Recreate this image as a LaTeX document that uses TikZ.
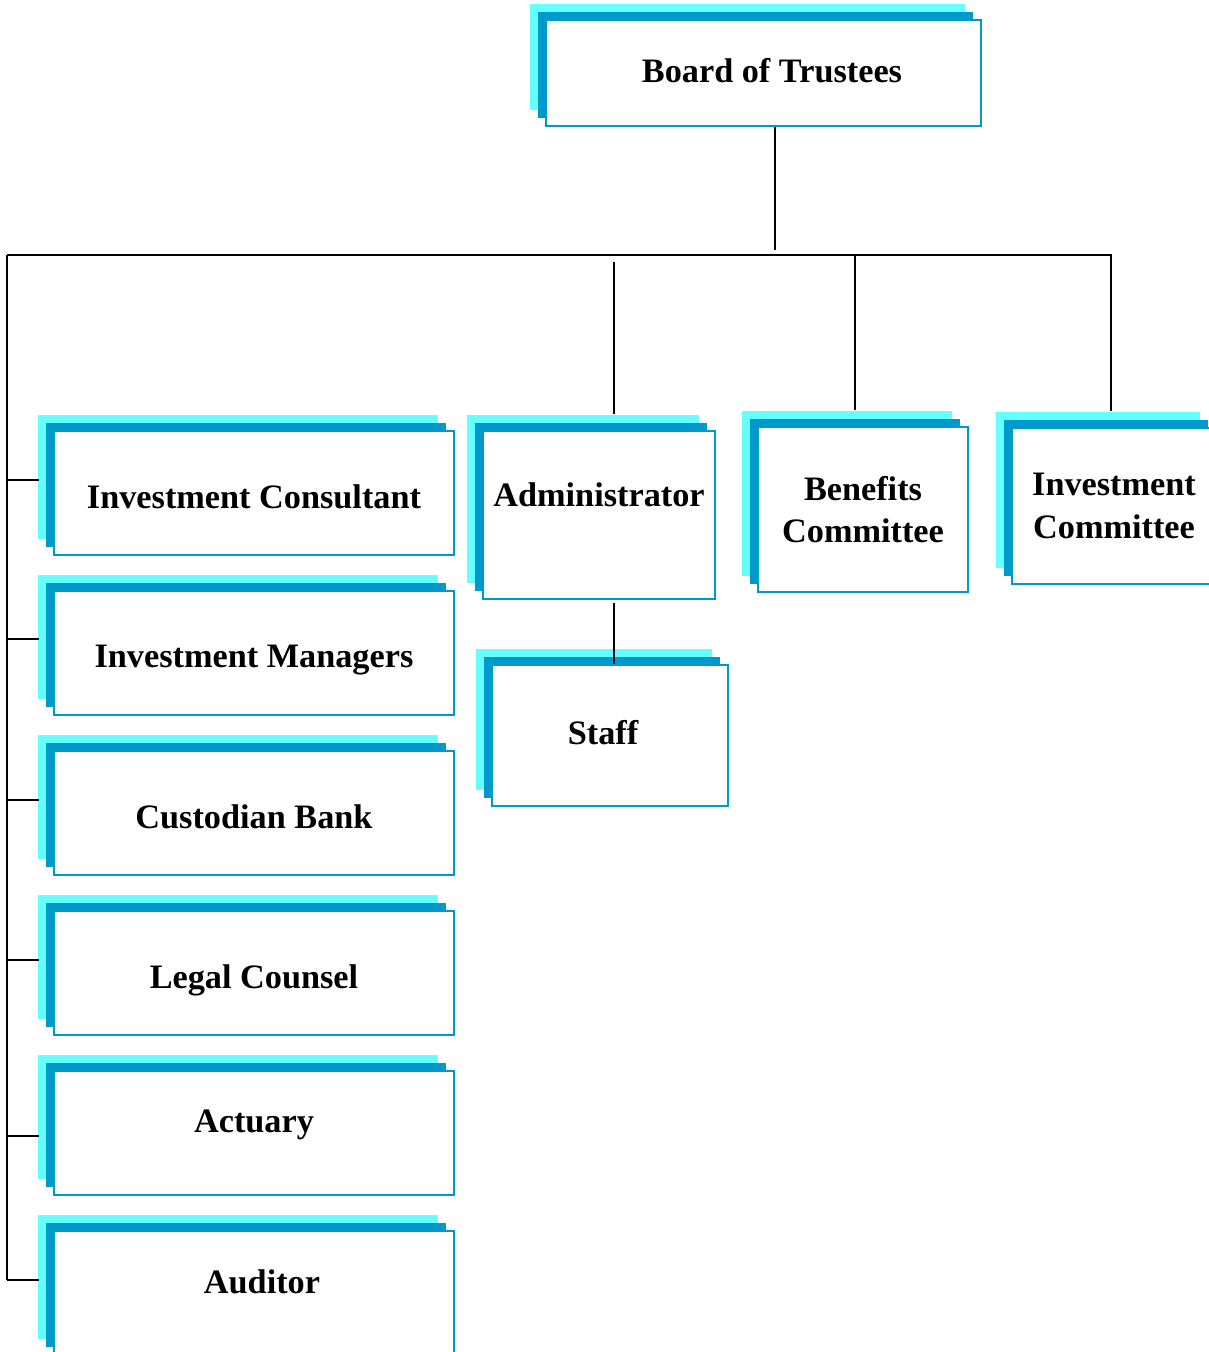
\documentclass[tikz,border=0pt]{standalone}
\usepackage{fontspec}
\setmainfont{Liberation Serif}
\usetikzlibrary{shadows}
\definecolor{cardcyan}{HTML}{66FFFF}
\definecolor{cardblue}{HTML}{0099CC}
\begin{document}
\begin{tikzpicture}[x=0.02cm, y=-0.02cm, line width=1.1pt,
    font=\fontsize{19.5}{24}\selectfont\bfseries,
    card/.style={draw=cardblue, line width=1pt, fill=white, align=center, inner sep=0pt,
      general shadow={shadow xshift=-0.32cm, shadow yshift=0.32cm, fill=cardcyan},
      general shadow={shadow xshift=-0.16cm, shadow yshift=0.16cm, fill=cardblue}},
    lift/.style={text height=0.7cm, text depth=#1}]
  % page: 1209 x 1352 units, one unit = 0.02 cm
  \path[use as bounding box, clip] (0,0) rectangle (1209,1352);
  \node[card, lift=0.3cm, minimum width=8.7cm, minimum height=2.12cm] (board) at (763.5,73) {\hspace*{0.34cm}Board of Trustees};
  % left column, one card every 160 units
  \foreach \n/\y/\d/\t in {ic/493/0.1cm/Investment Consultant, im/653/0.14cm/Investment Managers,
      cb/813/0.1cm/Custodian Bank, lc/973/0.1cm/Legal Counsel, act/1133/0.74cm/Actuary,
      aud/1293/0.7cm/\hspace*{0.32cm}Auditor}
    \node[card, lift=\d, minimum width=8cm, minimum height=2.48cm] (\n) at (254,\y) {\t};
  \node[card, lift=1.06cm, minimum width=4.64cm, minimum height=3.36cm] (adm) at (599,515) {Administrator};
  \node[card, lift=0.36cm, minimum width=4.72cm, minimum height=2.82cm] (staff) at (610,735.5) {Staff\hspace*{0.28cm}};
  \node[card, minimum width=4.2cm, minimum height=3.3cm] (ben) at (863,509.5) {Benefits\\Committee};
  \node[card, minimum width=4.08cm, minimum height=3.12cm] (invc) at (1114,506) {Investment\\Committee};
  % connectors
  \coordinate (jt) at (775,250);
  \coordinate (busL) at (7,255);
  \coordinate (busR) at (1111,255);
  \coordinate (jb) at (855,255);
  \coordinate (ja) at (614,262);
  \draw (board.south -| jt) -- (jt);
  \draw (busL) -- (busR) -- ([yshift=0.32cm]invc.north -| busR);
  \draw (jb) -- ([yshift=0.32cm]ben.north -| jb);
  \draw (ja) -- ([yshift=0.32cm]adm.north -| ja);
  \draw ([yshift=-0.06cm]adm.south -| ja) -- (staff.north -| ja);
  \draw (busL) -- ([yshift=0.26cm]aud.west -| busL);
  \foreach \n/\dy in {ic/13, im/14, cb/13, lc/13, act/-3, aud/13}
    \draw ([yshift=\dy*0.02cm]\n.west -| busL) -- ([xshift=-0.28cm, yshift=\dy*0.02cm]\n.west);
\end{tikzpicture}
\end{document}
